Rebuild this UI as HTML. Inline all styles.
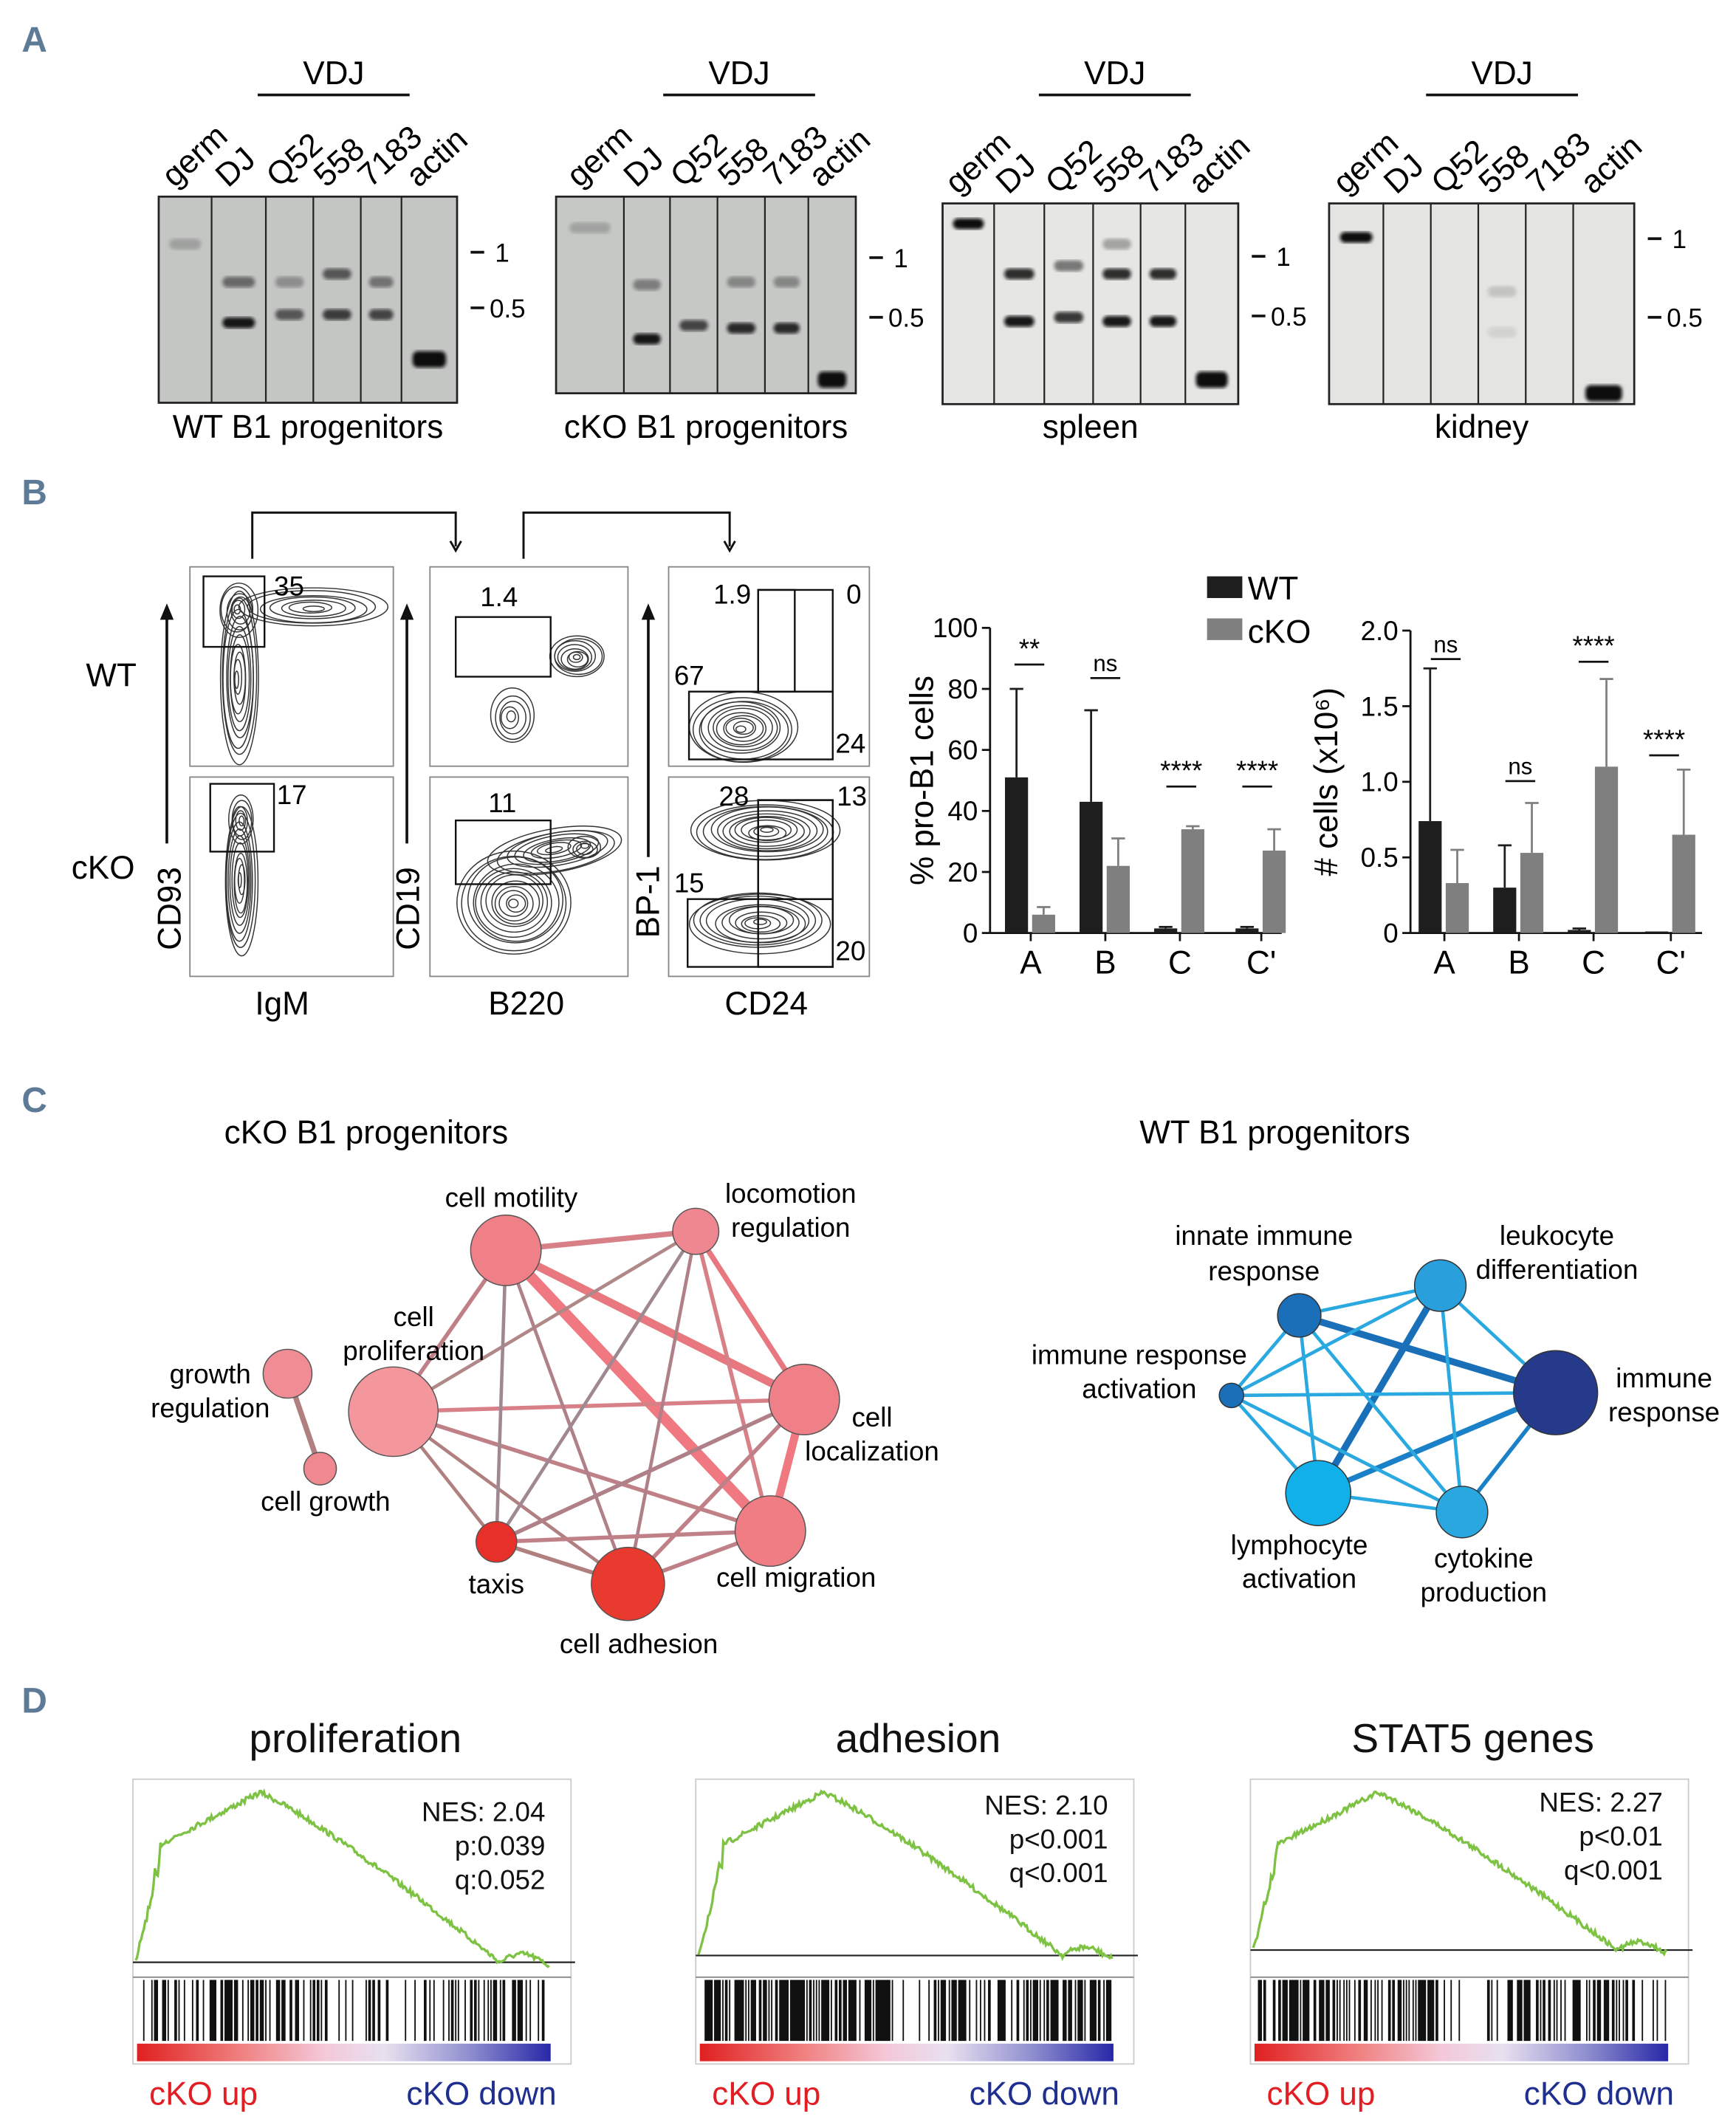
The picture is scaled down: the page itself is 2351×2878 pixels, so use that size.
<!DOCTYPE html>
<html><head><meta charset="utf-8">
<style>
html,body{margin:0;padding:0;background:#fff;}
svg{display:block;font-family:"Liberation Sans",Arial,sans-serif;}
</style></head>
<body>
<svg id="s" xmlns="http://www.w3.org/2000/svg" width="2351" height="2878" viewBox="0 0 1280 1567">
<defs>
<linearGradient id="rb" x1="0" x2="1" y1="0" y2="0">
<stop offset="0" stop-color="#e02020"/><stop offset="0.25" stop-color="#f08080"/><stop offset="0.45" stop-color="#f4c8d8"/><stop offset="0.6" stop-color="#e8e0f0"/><stop offset="0.8" stop-color="#9090d0"/><stop offset="1" stop-color="#2828a8"/>
</linearGradient>
<filter id="bl"><feGaussianBlur stdDeviation="1.3"/></filter>
</defs>
<g font-family="Liberation Sans, sans-serif" font-weight="bold" fill="#5d7a96" font-size="26">
<text x="16" y="38">A</text>
<text x="16" y="372">B</text>
<text x="16" y="820">C</text>
<text x="16" y="1263">D</text>
</g>
<g id="gels"></g>
<g id="flow"></g>
<g id="bars"></g>
<g id="net"></g>
<g id="gsea"></g>
</svg>
<script>
const NS="http://www.w3.org/2000/svg";
function el(p,t,a,txt){const e=document.createElementNS(NS,t);for(const k in a)e.setAttribute(k,a[k]);if(txt!==undefined)e.textContent=txt;p.appendChild(e);return e;}
let seed=7;function rnd(){seed=(seed*16807)%2147483647;return seed/2147483647;}

const G=document.getElementById('gels');
const gels=[
 {lanes:[117,156,196,231,266,296,337],y0:145,y1:297,bg:"#c4c6c4",m1:186,m05:227,label:"WT B1 progenitors",
  bands:[[0,180,.2],[1,208,.5],[1,238,.95],[2,208,.3],[2,232,.6],[3,202,.6],[3,232,.75],[4,208,.45],[4,232,.7],[5,263,1]]},
 {lanes:[410,460,494,529,564,596,631],y0:145,y1:290,bg:"#c6c8c6",m1:190,m05:234,label:"cKO B1 progenitors",
  bands:[[0,168,.2],[1,210,.4],[1,250,.95],[2,240,.7],[3,208,.35],[3,242,.85],[4,208,.35],[4,242,.85],[5,278,1]]},
 {lanes:[695,733,770,806,841,874,913],y0:150,y1:298,bg:"#e6e6e4",m1:189,m05:233,label:"spleen",
  bands:[[0,165,1],[1,202,.85],[1,237,.95],[2,196,.5],[2,234,.8],[3,180,.3],[3,202,.85],[3,237,.95],[4,202,.85],[4,237,.95],[5,278,1]]},
 {lanes:[980,1020,1055,1090,1125,1160,1205],y0:150,y1:298,bg:"#e4e4e2",m1:176,m05:234,label:"kidney",
  bands:[[0,175,1],[3,215,.15],[3,245,.08],[5,288,1]]}
];
const lnames=["germ","DJ","Q52","558","7183","actin"];
gels.forEach(g=>{
 const L=g.lanes;
 el(G,'rect',{x:L[0],y:g.y0,width:L[6]-L[0],height:g.y1-g.y0,fill:g.bg,stroke:"#222","stroke-width":1.5});
 for(let i=1;i<6;i++)el(G,'line',{x1:L[i],x2:L[i],y1:g.y0,y2:g.y1,stroke:"#222","stroke-width":1.2});
 g.bands.forEach(b=>{const cx=(L[b[0]]+L[b[0]+1])/2,w=(L[b[0]+1]-L[b[0]])*0.6;
  el(G,'rect',{x:cx-w/2,y:b[1]-4,width:w,height:b[0]==5?12:8,rx:4,fill:"#111",opacity:b[2],filter:"url(#bl)"});});
 const r=L[6];
 el(G,'line',{x1:r+10,x2:r+20,y1:g.m1,y2:g.m1,stroke:"#111","stroke-width":2});
 el(G,'line',{x1:r+10,x2:r+20,y1:g.m05,y2:g.m05,stroke:"#111","stroke-width":2});
 el(G,'text',{x:r+28,y:g.m1+7,"font-size":19},"1");
 el(G,'text',{x:r+24,y:g.m05+7,"font-size":19},"0.5");
 el(G,'text',{x:(L[0]+L[6])/2,y:323,"font-size":24,"text-anchor":"middle"},g.label);
 const vx=(L[2]+L[5])/2;
 el(G,'line',{x1:vx-56,x2:vx+56,y1:70,y2:70,stroke:"#111","stroke-width":2});
 el(G,'text',{x:vx,y:62,"font-size":24,"text-anchor":"middle"},"VDJ");
 for(let i=0;i<6;i++){const cx=(L[i]+L[i+1])/2-8;
  el(G,'text',{x:cx,y:g.y0-6,"font-size":24,transform:`rotate(-42 ${cx} ${g.y0-6})`},lnames[i]);}
});

const F=document.getElementById('flow');
function box(x,y,w,h){el(F,'rect',{x,y,width:w,height:h,fill:"#fff",stroke:"#888","stroke-width":1});}
function gate(x,y,w,h){el(F,'rect',{x,y,width:w,height:h,fill:"none",stroke:"#111","stroke-width":1.3});}
function contours(cx,cy,rx,ry,n,rot){for(let i=1;i<=n;i++){const f=i/n;el(F,'ellipse',{cx:cx+(rnd()-.5)*3,cy:cy+(rnd()-.5)*3,rx:rx*f,ry:ry*f,fill:"none",stroke:"#333","stroke-width":0.8,transform:`rotate(${rot} ${cx} ${cy})`});}}
function t(x,y,s,sz,anch){el(F,'text',{x,y,"font-size":sz||20,"text-anchor":anch||"start"},s);}
box(140,418,150,147);box(317,418,146,147);box(493,418,148,147);
box(140,573,150,147);box(317,573,146,147);box(493,573,148,147);
contours(176,500,14,64,10,0);contours(230,448,55,14,7,0);contours(176,450,14,20,6,0);
gate(150,425,45,52);t(202,439,"35");
contours(177,650,12,55,10,0);contours(177,605,9,18,5,0);
gate(155,578,47,50);t(204,593,"17");
contours(425,485,20,15,8,0);contours(377,528,16,20,5,0);
gate(336,455,70,44);t(354,447,"1.4");
contours(410,627,50,16,8,-10);contours(380,665,42,38,12,0);contours(430,625,12,8,4,0);
gate(336,605,70,47);t(360,599,"11");
contours(547,537,40,26,11,0);
gate(508,510,106,50);gate(559,435,55,75);gate(559,435,27,75);
t(526,445,"1.9");t(624,445,"0");t(497,505,"67");t(616,555,"24");
contours(565,613,55,22,12,0);contours(560,680,52,22,11,0);
gate(507,663,107,50);gate(559,590,55,123);gate(559,590,55,73);
t(530,594,"28");t(617,594,"13");t(497,658,"15");t(616,708,"20");
function uparrow(x,y1,y2){el(F,'line',{x1:x,x2:x,y1,y2:y2+8,stroke:"#111","stroke-width":2});el(F,'path',{d:`M${x-5},${y2+12}L${x},${y2}L${x+5},${y2+12}Z`,fill:"#111"});}
uparrow(123,622,445);uparrow(300,622,445);uparrow(478,632,445);
function tr(x,y,s){el(F,'text',{x,y,"font-size":24,"text-anchor":"middle",transform:`rotate(-90 ${x} ${y})`},s);}
tr(133,670,"CD93");tr(309,670,"CD19");tr(486,665,"BP-1");
t(82,506,"WT",24,"middle");t(76,648,"cKO",24,"middle");
t(208,748,"IgM",24,"middle");t(388,748,"B220",24,"middle");t(565,748,"CD24",24,"middle");
function bracket(x1,x2,y){el(F,'path',{d:`M${x1},412V${y}H${x2}V403`,fill:"none",stroke:"#111","stroke-width":1.6});el(F,'path',{d:`M${x2-4},399L${x2},406L${x2+4},399`,fill:"none",stroke:"#111","stroke-width":1.6});}
bracket(186,336,378);bracket(386,538,378);

const B=document.getElementById('bars');
function tb(x,y,s,sz,anch,extra){const a={x,y,"font-size":sz||20,"text-anchor":anch||"middle"};Object.assign(a,extra||{});return el(B,'text',a,s);}
function chart(ax,y0,ytop,ticks,maxv,groups,sig,ylabel,ylx){
 const sc=(y0-ytop)/maxv;
 el(B,'line',{x1:ax,x2:ax,y1:ytop,y2:y0,stroke:"#111","stroke-width":1.5});
 el(B,'line',{x1:ax,x2:ax+215,y1:y0,y2:y0,stroke:"#111","stroke-width":1.5});
 ticks.forEach(tk=>{const y=y0-tk[0]*sc;el(B,'line',{x1:ax-6,x2:ax,y1:y,y2:y,stroke:"#111","stroke-width":1.5});tb(ax-9,y+7,tk[1],20,"end");});
 groups.forEach(g=>{
  [[g.x-19,g.w,g.we,"#1e1e1e"],[g.x+1,g.k,g.ke,"#7f7f7f"]].forEach(b=>{
   const h=b[1]*sc;el(B,'rect',{x:b[0],y:y0-h,width:17,height:h,fill:b[3]});
   if(b[2]>b[1]){const cx=b[0]+8.5,ye=y0-b[2]*sc;el(B,'line',{x1:cx,x2:cx,y1:y0-h,y2:ye,stroke:b[3],"stroke-width":1.5});el(B,'line',{x1:cx-5,x2:cx+5,y1:ye,y2:ye,stroke:b[3],"stroke-width":1.5});}
  });
  el(B,'line',{x1:g.x,x2:g.x,y1:y0,y2:y0+6,stroke:"#111","stroke-width":1.5});
  tb(g.x,y0+30,g.n,24);
 });
 sig.forEach(s=>{el(B,'line',{x1:s[0]-11,x2:s[0]+11,y1:s[1],y2:s[1],stroke:"#111","stroke-width":1.5});tb(s[0],s[1]-5,s[2],s[2]=="ns"?17:20);});
 tb(ylx,(y0+ytop)/2,ylabel,24,"middle",{transform:`rotate(-90 ${ylx} ${(y0+ytop)/2})`});
}
chart(730,688,463,[[0,"0"],[20,"20"],[40,"40"],[60,"60"],[80,"80"],[100,"100"]],100,
 [{x:760,n:"A",w:51,we:80,k:6,ke:8.5},{x:815,n:"B",w:43,we:73,k:22,ke:31},{x:870,n:"C",w:1.5,we:2,k:34,ke:35},{x:930,n:"C'",w:1.5,we:2,k:27,ke:34}],
 [[759,490,"**"],[815,500,"ns"],[871,580,"****"],[927,580,"****"]],"% pro-B1 cells",688);
chart(1040,688,465,[[0,"0"],[0.5,"0.5"],[1,"1.0"],[1.5,"1.5"],[2,"2.0"]],2,
 [{x:1065,n:"A",w:0.74,we:1.75,k:0.33,ke:0.55},{x:1120,n:"B",w:0.3,we:0.58,k:0.53,ke:0.86},{x:1175,n:"C",w:0.02,we:0.03,k:1.1,ke:1.68},{x:1232,n:"C'",w:0.01,we:0.01,k:0.65,ke:1.08}],
 [[1066,486,"ns"],[1121,576,"ns"],[1175,488,"****"],[1227,557,"****"]],"# cells (x10⁶)",986);
el(B,'rect',{x:890,y:425,width:26,height:16,fill:"#1e1e1e"});tb(920,442,"WT",24,"start");
el(B,'rect',{x:890,y:456,width:26,height:16,fill:"#7f7f7f"});tb(920,474,"cKO",24,"start");

const N=document.getElementById('net');
function tn(x,y,s,sz,anch){el(N,'text',{x,y,"font-size":sz||20,"text-anchor":anch||"middle"},s);}
tn(270,843,"cKO B1 progenitors",24);tn(940,843,"WT B1 progenitors",24);
const c={mot:[373,922,26,"#f08088"],loc:[513,908,17,"#ef8790"],pro:[290,1041,33,"#f4979d"],gr:[212,1013,18,"#f08c94"],cg:[236,1083,12,"#f08890"],lz:[593,1032,26,"#f08088"],mig:[568,1129,26,"#f07c84"],tax:[366,1137,15,"#e8302a"],adh:[463,1168,27,"#e83a2e"]};
const ce=[["mot","mig",8,"#f07880"],["mot","lz",6,"#e87880"],["loc","lz",4,"#e87880"],["lz","mig",6,"#f07880"],["mot","loc",4,"#d88088"],["gr","cg",4,"#b08080"],
["pro","mot",3,"#c08088"],["pro","loc",2.5,"#b08888"],["pro","lz",3,"#d88088"],["pro","mig",3,"#c08088"],["pro","tax",2.5,"#b08080"],["pro","adh",2.5,"#b08080"],
["mot","tax",2.5,"#a08890"],["mot","adh",2.5,"#b08088"],["loc","tax",2.5,"#a08890"],["loc","adh",2.5,"#b08088"],["loc","mig",3,"#d88088"],["lz","tax",3,"#b08088"],["lz","adh",3,"#c08088"],["mig","tax",3,"#c08088"],["mig","adh",3,"#c08088"],["tax","adh",3,"#b08080"]];
ce.forEach(e=>{const a=c[e[0]],b=c[e[1]];el(N,'line',{x1:a[0],y1:a[1],x2:b[0],y2:b[1],stroke:e[3],"stroke-width":e[2]});});
for(const k in c){const n=c[k];el(N,'circle',{cx:n[0],cy:n[1],r:n[2],fill:n[3],stroke:"#555","stroke-width":0.8});}
tn(377,890,"cell motility");tn(583,887,"locomotion");tn(583,912,"regulation");
tn(305,978,"cell");tn(305,1003,"proliferation");tn(155,1020,"growth");tn(155,1045,"regulation");
tn(240,1114,"cell growth");tn(643,1052,"cell");tn(643,1077,"localization");tn(587,1170,"cell migration");
tn(366,1175,"taxis");tn(471,1219,"cell adhesion");
const w={inn:[958,970,16,"#1a6fb8"],leu:[1062,948,19,"#29a0dc"],ira:[908,1029,9,"#1a6fb8"],imm:[1147,1027,31,"#263a8c"],lym:[972,1101,24,"#12b0ea"],cyt:[1078,1115,19,"#2ba7e0"]};
const we=[["inn","imm",5,"#1a70b8"],["leu","lym",5,"#1a70b8"],["lym","imm",4,"#1a80c8"],["cyt","imm",3,"#1a80c8"],["leu","imm",2.5,"#2aa8e0"],
["inn","leu",2.5,"#2aa8e0"],["inn","ira",2.5,"#2aa8e0"],["inn","lym",2.5,"#2aa8e0"],["inn","cyt",2.5,"#2aa8e0"],["ira","leu",2.5,"#2aa8e0"],["ira","imm",2.5,"#2aa8e0"],["ira","lym",2.5,"#2aa8e0"],["ira","cyt",2.5,"#2aa8e0"],["leu","cyt",2.5,"#2aa8e0"],["lym","cyt",2.5,"#2aa8e0"]];
we.forEach(e=>{const a=w[e[0]],b=w[e[1]];el(N,'line',{x1:a[0],y1:a[1],x2:b[0],y2:b[1],stroke:e[3],"stroke-width":e[2]});});
for(const k in w){const n=w[k];el(N,'circle',{cx:n[0],cy:n[1],r:n[2],fill:n[3],stroke:"#333","stroke-width":0.8});}
tn(932,918,"innate immune");tn(932,944,"response");tn(1148,918,"leukocyte");tn(1148,943,"differentiation");
tn(840,1006,"immune response");tn(840,1031,"activation");tn(1227,1023,"immune");tn(1227,1048,"response");
tn(958,1146,"lymphocyte");tn(958,1171,"activation");tn(1094,1156,"cytokine");tn(1094,1181,"production");

const D=document.getElementById('gsea');
function td(x,y,s,sz,anch,fill){el(D,'text',{x,y,"font-size":sz,"text-anchor":anch,fill:fill||"#111"},s);}
const plots=[{x:98,base:1447,title:"proliferation",nes:["NES: 2.04","p:0.039","q:0.052"],ny:1343,dens:.35},
{x:513,base:1442,title:"adhesion",nes:["NES: 2.10","p<0.001","q<0.001"],ny:1338,dens:.55},
{x:922,base:1438,title:"STAT5 genes",nes:["NES: 2.27","p<0.01","q<0.001"],ny:1336,dens:.4}];
plots.forEach((p,pi)=>{
 const x0=p.x,x1=p.x+323;
 td(x0+164,1292,p.title,30,"middle");
 el(D,'rect',{x:x0,y:1312,width:323,height:210,fill:"none",stroke:"#ccc","stroke-width":1});
 el(D,'line',{x1:x0,x2:x1+3,y1:p.base,y2:p.base,stroke:"#222","stroke-width":1.2});
 el(D,'line',{x1:x0,x2:x1,y1:1458,y2:1458,stroke:"#888","stroke-width":1});
 let pts=[],peakY=1322;
 for(let i=0;i<=300;i++){const fx=i/300;let y;
  if(fx<0.06)y=p.base-(p.base-1360)*(fx/0.06)*(0.8+0.2*rnd());
  else if(fx<0.3)y=1360-(1360-peakY)*((fx-0.06)/0.24);
  else if(fx<0.88)y=peakY+(p.base-peakY)*Math.pow((fx-0.3)/0.58,1.15);
  else y=p.base-6*Math.sin((fx-0.88)*30);
  y+=(rnd()-.5)*4;pts.push((x0+2+fx*305).toFixed(1)+","+y.toFixed(1));}
 el(D,'polyline',{points:pts.join(" "),fill:"none",stroke:"#7dc242","stroke-width":1.8});
 p.nes.forEach((s,i)=>td(x0+304,p.ny+i*25,s,20,"end"));
 let bx="";for(let i=0;i<305;i++){const fx=i/305;const pr=fx<0.45?p.dens+0.2:(fx<0.55?0.1:p.dens);if(rnd()<pr)bx+=`M${(x0+6+i).toFixed(1)},1460V1505`;}
 el(D,'path',{d:bx,stroke:"#111","stroke-width":1});
 el(D,'rect',{x:x0+3,y:1507,width:305,height:13,fill:"url(#rb)"});
 td(x0+52,1552,"cKO up",24,"middle","#e01e24");td(x0+257,1552,"cKO down",24,"middle","#1f2f8f");
});
</script>
</body></html>
